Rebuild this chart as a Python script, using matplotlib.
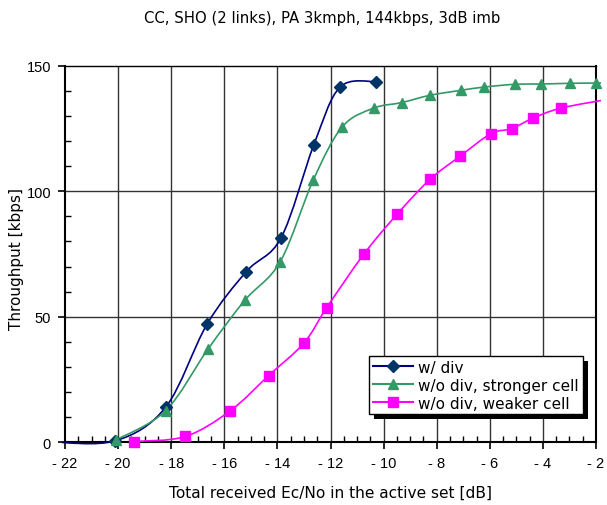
import numpy as np
import matplotlib
matplotlib.use("Agg")
import matplotlib.pyplot as plt
from matplotlib.path import Path
from matplotlib.patches import PathPatch, Rectangle
from matplotlib.lines import Line2D
from matplotlib.transforms import IdentityTransform

plt.rcParams['font.family'] = ['Liberation Sans', 'DejaVu Sans']

# Throughput vs total received Ec/No
x_div = [-22.5, -20.1, -18.2, -16.65, -15.17, -13.86, -12.63, -11.65, -10.3]
y_div = [0.0, 0.5, 14.0, 47.0, 68.0, 81.5, 118.5, 141.5, 143.8]

x_strong = [-20.08, -18.21, -16.62, -15.23, -13.89, -12.65, -11.56, -10.37, -9.32,
            -8.26, -7.09, -6.21, -5.06, -4.08, -2.98, -2.0, -1.0]
y_strong = [0.8, 12.5, 37.0, 56.5, 72.0, 104.5, 125.7, 133.2, 135.4,
            138.3, 140.3, 141.6, 142.7, 142.8, 143.1, 143.2, 143.3]

x_weak = [-19.4, -17.47, -15.77, -14.33, -13.0, -12.15, -10.74, -9.48, -8.25,
          -7.12, -5.96, -5.18, -4.37, -3.32, -1.5]
y_weak = [0.2, 2.2, 12.5, 26.5, 39.5, 53.5, 75.0, 91.0, 104.8,
          114.0, 123.0, 125.0, 129.2, 133.2, 136.8]

series_labels = ["w/ div", "w/o div, stronger cell", "w/o div, weaker cell"]
line_colors = ["#000080", "#339966", "#FF00FF"]
marker_colors = ["#003366", "#339966", "#FF00FF"]
markers = ["D", "^", "s"]
marker_sizes = [5.8, 7.5, 6.5]

x_ticks = [-22, -20, -18, -16, -14, -12, -10, -8, -6, -4, -2]
x_tick_labels = ["- 22", "- 20", "- 18", "- 16", "- 14", "- 12", "- 10", "- 8", "- 6", "- 4", "- 2"]
y_ticks = [0, 50, 100, 150]
x_range = (-22, -2)
y_range = (0, 150)

WIDE = ['DejaVu Sans']


def smooth_path(xs, ys):
    """Bezier path through the points (smoothed line, Catmull-Rom style)."""
    pts = np.column_stack([xs, ys]).astype(float)
    n = len(pts)
    verts = [pts[0]]
    codes = [Path.MOVETO]
    for i in range(n - 1):
        p0 = pts[i - 1] if i > 0 else pts[i]
        p1 = pts[i]
        p2 = pts[i + 1]
        p3 = pts[i + 2] if i + 2 < n else pts[i + 1]
        c1 = p1 + (p2 - p0) / 6.0
        c2 = p2 - (p3 - p1) / 6.0
        verts += [c1, c2, p2]
        codes += [Path.CURVE4] * 3
    return Path(verts, codes)


fig = plt.figure(figsize=(6.07, 5.06), dpi=100)
ax = fig.add_axes([0.1071, 0.1245, 0.8748, 0.7431])
ax.set_xlim(*x_range)
ax.set_ylim(*y_range)

# grid
for xv in x_ticks[1:-1]:
    ax.axvline(xv, color="#333333", lw=1.0, zorder=1)
for yv in y_ticks[1:-1]:
    ax.axhline(yv, color="#333333", lw=1.0, zorder=1)

# curves may run a few pixels past the frame
clip_box = Rectangle((-0.006, -0.012), 1.016, 1.024, transform=ax.transAxes,
                     visible=False)
ax.add_patch(clip_box)

all_series = [(x_div, y_div), (x_strong, y_strong), (x_weak, y_weak)]
for k, (xs, ys) in enumerate(all_series):
    patch = PathPatch(smooth_path(xs, ys), fill=False, edgecolor=line_colors[k],
                      lw=1.2, zorder=3)
    ax.add_patch(patch)
    patch.set_clip_path(clip_box)
    xa = np.array(xs)
    ya = np.array(ys)
    inside = (xa >= x_range[0]) & (xa <= x_range[1])
    ax.plot(xa[inside], ya[inside], linestyle="none", marker=markers[k],
            markersize=marker_sizes[k], color=marker_colors[k],
            markeredgecolor=marker_colors[k], zorder=4, clip_on=False)

# axes frame and ticks
for side in ["left", "right", "top", "bottom"]:
    ax.spines[side].set_color("black")
    ax.spines[side].set_linewidth(1.5)
ax.spines["top"].set_linewidth(1.0)

ax.set_xticks(x_ticks)
ax.set_xticklabels(x_tick_labels)
ax.set_xticks(np.arange(-22, -1.99, 0.5), minor=True)
ax.set_yticks(y_ticks)
ax.set_yticks(np.arange(0, 151, 10), minor=True)
ax.tick_params(which="major", direction="out", length=5, width=1.2, labelsize=10.5,
               colors="black", pad=5)
ax.tick_params(which="minor", direction="in", length=4, width=1.0)

fig.text(0.531, 1 - 18 / 506, "CC, SHO (2 links), PA 3kmph, 144kbps, 3dB imb",
         ha="center", va="center", fontsize=10.7, family=WIDE)
fig.text(0.544, 1 - 493 / 506, "Total received Ec/No in the active set [dB]",
         ha="center", va="center", fontsize=11.1, family=WIDE)
fig.text(17 / 607, 1 - 259 / 506, "Throughput [kbps]", rotation=90,
         ha="center", va="center", fontsize=11, family=WIDE)

handles = [Line2D([], [], color=line_colors[k], lw=1.5, marker=markers[k],
                  markersize=marker_sizes[k], markerfacecolor=marker_colors[k],
                  markeredgecolor=marker_colors[k]) for k in range(3)]
leg = ax.legend(handles, series_labels, loc="upper left",
                bbox_to_anchor=(0.573, 0.2295), borderaxespad=0,
                fancybox=False, framealpha=1, edgecolor="black",
                prop={'family': WIDE, 'size': 11}, handlelength=2.6,
                handletextpad=0.35, labelspacing=0.2, borderpad=0.25,
                markerscale=1.0, numpoints=1)
leg.get_frame().set_linewidth(1.0)
leg.set_zorder(6)

fig.canvas.draw()
bb = leg.get_frame().get_window_extent()
shadow = Rectangle((bb.x0 + 5, bb.y0 - 5), bb.width, bb.height,
                   transform=IdentityTransform(), facecolor="black",
                   edgecolor="none", zorder=5.5, clip_on=False)
ax.add_artist(shadow)

fig.savefig("out.png", dpi=100)
